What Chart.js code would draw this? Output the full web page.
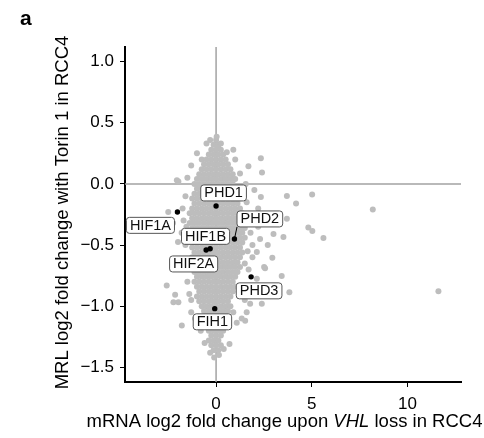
<!DOCTYPE html>
<html>
<head>
<meta charset="utf-8">
<script src="https://cdn.jsdelivr.net/npm/chart.js@4/dist/chart.umd.min.js"></script>
<style>
  html, body { margin: 0; padding: 0; background: #fff; }
  #wrap { width: 484px; height: 438px; }
</style>
</head>
<body>
<div id="wrap"><canvas id="scatterChart" width="484" height="438"></canvas></div>
<script>
// tick values
const xTicks = [0, 5, 10];
const yTicks = [-1.5, -1.0, -0.5, 0.0, 0.5, 1.0];

// labelled genes (black points)
const geneNames = ['PHD1', 'HIF1A', 'PHD2', 'HIF1B', 'HIF2A', 'PHD3', 'FIH1'];
const geneX = [0.0, -2.02, 0.96, -0.31, -0.52, 1.83, -0.07];
const geneY = [-0.18, -0.23, -0.45, -0.53, -0.54, -0.76, -1.02];

// dense grey cloud
const coreRows = [
    { y: 0.36, x: [0] },
    { y: 0.32, x: [-0.13, 0.12] },
    { y: 0.28, x: [-0.25, 0, 0.25] },
    { y: 0.24, x: [-0.38, -0.13, 0.12, 0.37] },
    { y: 0.20, x: [-0.75, -0.5, -0.25, 0, 0.25, 0.5] },
    { y: 0.16, x: [-0.63, -0.38, -0.13, 0.12, 0.37, 0.62] },
    { y: 0.12, x: [-0.75, -0.5, -0.25, 0, 0.25, 0.5, 0.75] },
    { y: 0.08, x: [-0.88, -0.63, -0.38, -0.13, 0.12, 0.37, 0.62, 0.87] },
    { y: 0.04, x: [-1.0, -0.75, -0.5, -0.25, 0, 0.25, 0.5, 0.75, 1.0] },
    { y: 0.00, x: [-1.13, -0.88, -0.63, -0.38, -0.13, 0.12, 0.37, 0.62, 0.87] },
    { y: -0.04, x: [-1.0, -0.75, -0.5, -0.25, 0, 0.25, 0.5, 0.75, 1.0] },
    { y: -0.08, x: [-1.13, -0.88, -0.63, -0.38, -0.13, 0.12, 0.37, 0.62, 0.87, 1.12] },
    { y: -0.12, x: [-1.25, -1.0, -0.75, -0.5, -0.25, 0, 0.25, 0.5, 0.75, 1.0, 1.25] },
    { y: -0.16, x: [-1.13, -0.88, -0.63, -0.38, -0.13, 0.12, 0.37, 0.62, 0.87, 1.12] },
    { y: -0.20, x: [-1.25, -1.0, -0.75, -0.5, -0.25, 0, 0.25, 0.5, 0.75, 1.0, 1.25] },
    { y: -0.24, x: [-1.38, -1.13, -0.88, -0.63, -0.38, -0.13, 0.12, 0.37, 0.62, 0.87, 1.12, 1.37] },
    { y: -0.28, x: [-1.25, -1.0, -0.75, -0.5, -0.25, 0, 0.25, 0.5, 0.75, 1.0, 1.25] },
    { y: -0.32, x: [-1.38, -1.13, -0.88, -0.63, -0.38, -0.13, 0.12, 0.37, 0.62, 0.87, 1.12, 1.37] },
    { y: -0.36, x: [-1.25, -1.0, -0.75, -0.5, -0.25, 0, 0.25, 0.5, 0.75, 1.0, 1.25, 1.5] },
    { y: -0.40, x: [-1.38, -1.13, -0.88, -0.63, -0.38, -0.13, 0.12, 0.37, 0.62, 0.87, 1.12, 1.37] },
    { y: -0.44, x: [-1.25, -1.0, -0.75, -0.5, -0.25, 0, 0.25, 0.5, 0.75, 1.0, 1.25, 1.5] },
    { y: -0.48, x: [-1.13, -0.88, -0.63, -0.38, -0.13, 0.12, 0.37, 0.62, 0.87, 1.12, 1.37] },
    { y: -0.52, x: [-1.25, -1.0, -0.75, -0.5, -0.25, 0, 0.25, 0.5, 0.75, 1.0, 1.25] },
    { y: -0.56, x: [-1.13, -0.88, -0.63, -0.38, -0.13, 0.12, 0.37, 0.62, 0.87, 1.12, 1.37] },
    { y: -0.60, x: [-1.25, -1.0, -0.75, -0.5, -0.25, 0, 0.25, 0.5, 0.75, 1.0, 1.25] },
    { y: -0.64, x: [-1.13, -0.88, -0.63, -0.38, -0.13, 0.12, 0.37, 0.62, 0.87, 1.12] },
    { y: -0.68, x: [-1.25, -1.0, -0.75, -0.5, -0.25, 0, 0.25, 0.5, 0.75, 1.0, 1.25] },
    { y: -0.72, x: [-1.13, -0.88, -0.63, -0.38, -0.13, 0.12, 0.37, 0.62, 0.87, 1.12] },
    { y: -0.76, x: [-1.0, -0.75, -0.5, -0.25, 0, 0.25, 0.5, 0.75, 1.0] },
    { y: -0.80, x: [-1.13, -0.88, -0.63, -0.38, -0.13, 0.12, 0.37, 0.62, 0.87] },
    { y: -0.84, x: [-1.0, -0.75, -0.5, -0.25, 0, 0.25, 0.5, 0.75, 1.0] },
    { y: -0.88, x: [-0.88, -0.63, -0.38, -0.13, 0.12, 0.37, 0.62, 0.87] },
    { y: -0.92, x: [-1.0, -0.75, -0.5, -0.25, 0, 0.25, 0.5, 0.75] },
    { y: -0.96, x: [-0.88, -0.63, -0.38, -0.13, 0.12, 0.37, 0.62] },
    { y: -1.00, x: [-0.75, -0.5, -0.25, 0, 0.25, 0.5, 0.75] },
    { y: -1.04, x: [-0.63, -0.38, -0.13, 0.12, 0.37, 0.62] },
    { y: -1.08, x: [-0.5, -0.25, 0, 0.25, 0.5] },
    { y: -1.12, x: [-0.38, -0.13, 0.12, 0.37, 0.62] },
    { y: -1.16, x: [-0.5, -0.25, 0, 0.25, 0.5] },
    { y: -1.20, x: [-0.38, -0.13, 0.12, 0.37] },
    { y: -1.24, x: [-0.25, 0, 0.25] },
    { y: -1.28, x: [-0.38, -0.13, 0.12] },
    { y: -1.32, x: [-0.25, 0, 0.25] },
    { y: -1.36, x: [-0.13, 0.12] }
];

// scattered grey points around the cloud
const outlierX = [
    -0.31, 0.03, -0.5, 0.25, 0.1,
    0.56, 1.69, 2.34, 2.40, 1.25, 2.0, 2.34, 3.70, 5.02, 4.18, 8.19, 1.6, 1.55, 1.0, 0.9,
    3.70, 4.82, 5.03, 5.61, 3.52, 3.0, 2.94, 2.51, 3.43, 3.83, 2.39, 11.62, 1.60, 1.52, 2.13,
    2.56, 2.13, 1.78, 2.0, 2.2, 1.8, 2.3, 1.9, 1.7, 2.0, 1.75, 1.65, 2.6, 1.9, 2.7, 1.6, 1.5,
    2.2, 1.5, 1.6,
    -2.05, -1.97, -2.5, -2.25, -1.99, -2.58, -2.14, -2.23, -1.97, -1.79, -1.6, -1.7, -1.6,
    -1.65, -1.5, -1.4, -1.3, -1.1, -1.5, -1.3, -1.75, -1.8, -1.55, -1.3, -1.0,
    -0.31, 0.7, 0.68, 1.08, 1.34, 0.9, -0.8, -0.6, 0.4, -0.1, 0.15
];
const outlierY = [
    0.36, 0.385, 0.33, 0.33, 0.30,
    0.26, 0.145, 0.21, 0.093, 0.085, -0.05, -0.107, -0.098, -0.087, -0.16, -0.21, -0.15, 0.0, 0.2, 0.28,
    -0.284, -0.357, -0.385, -0.443, -0.434, -0.41, -0.603, -0.68, -0.754, -0.885, -0.98, -0.877, -1.05, -1.12, -0.557,
    -0.69, -0.776, -0.98, -0.25, -0.35, -0.4, -0.45, -0.6, -0.7, -0.85, -0.32, -0.55, -0.3, -0.5, -0.5, -0.85, -0.95,
    -0.2, -0.65, -0.25,
    0.03, 0.02, -0.23, -0.32, -0.475, -0.83, -0.907, -0.967, -0.967, -1.158, -0.1, -0.3, -0.5,
    -0.65, -0.8, -0.9, -1.05, -1.1, 0.05, 0.15, -0.2, -0.4, -0.35, -0.95, 0.25,
    -1.38, -1.31, -1.16, -1.136, -1.10, -1.05, -1.2, -1.3, -1.35, -1.42, -1.4
];

// label box offsets from the point, pixels (style, not data)
const labelOffsets = {
    PHD1: [7.5, -13], HIF1A: [-27, 13.3], PHD2: [25.4, -20], HIF1B: [-4.6, -12.4],
    HIF2A: [-12.5, 14], PHD3: [8, 14], FIH1: [-2.3, 13.2]
};

const FONT = '"Liberation Sans", Arial, Helvetica, sans-serif';

const cloudPoints = [];
coreRows.forEach(r => r.x.forEach(x => cloudPoints.push({ x: x, y: r.y })));
outlierX.forEach((x, i) => cloudPoints.push({ x: x, y: outlierY[i] }));

const genePoints = geneNames.map((n, i) => ({ x: geneX[i], y: geneY[i], name: n }));

function fmtY(v) {
    return v.toFixed(1).replace('-', '\u2212');
}

// grey lines through zero
const zeroLines = {
    id: 'zeroLines',
    beforeDatasetsDraw(chart) {
        const { ctx, chartArea, scales } = chart;
        const x0 = scales.x.getPixelForValue(0);
        const y0 = scales.y.getPixelForValue(0);
        ctx.save();
        ctx.strokeStyle = '#a3a3a3';
        ctx.lineWidth = 1.5;
        ctx.beginPath();
        ctx.moveTo(x0, chartArea.top);
        ctx.lineTo(x0, chartArea.bottom);
        ctx.moveTo(chartArea.left, y0);
        ctx.lineTo(chartArea.right, y0);
        ctx.stroke();
        ctx.restore();
    }
};

function roundRect(ctx, x, y, w, h, r) {
    ctx.beginPath();
    ctx.moveTo(x + r, y);
    ctx.lineTo(x + w - r, y);
    ctx.quadraticCurveTo(x + w, y, x + w, y + r);
    ctx.lineTo(x + w, y + h - r);
    ctx.quadraticCurveTo(x + w, y + h, x + w - r, y + h);
    ctx.lineTo(x + r, y + h);
    ctx.quadraticCurveTo(x, y + h, x, y + h - r);
    ctx.lineTo(x, y + r);
    ctx.quadraticCurveTo(x, y, x + r, y);
    ctx.closePath();
}

// ggrepel style label boxes
const geneLabels = {
    id: 'geneLabels',
    afterDatasetsDraw(chart) {
        const { ctx, scales } = chart;
        ctx.save();
        ctx.font = '14.5px ' + FONT;
        ctx.textAlign = 'center';
        ctx.textBaseline = 'middle';
        genePoints.forEach(p => {
            const px = scales.x.getPixelForValue(p.x);
            const py = scales.y.getPixelForValue(p.y);
            const off = labelOffsets[p.name];
            const cx = px + off[0], cy = py + off[1];
            const w = ctx.measureText(p.name).width + 7;
            const h = 16;
            const left = cx - w / 2, top = cy - h / 2;
            const nx = Math.max(left, Math.min(px, left + w));
            const ny = Math.max(top, Math.min(py, top + h));
            if (Math.hypot(nx - px, ny - py) > 10) {
                ctx.strokeStyle = '#000';
                ctx.lineWidth = 1;
                ctx.beginPath();
                ctx.moveTo(px, py);
                ctx.lineTo(nx, ny);
                ctx.stroke();
            }
            roundRect(ctx, left, top, w, h, 3);
            ctx.fillStyle = '#fff';
            ctx.fill();
            ctx.strokeStyle = '#555';
            ctx.lineWidth = 1;
            ctx.stroke();
            ctx.fillStyle = '#111';
            ctx.fillText(p.name, cx, cy + 0.5);
        });
        ctx.restore();
    }
};

// axis titles and panel letter
const titles = {
    id: 'titles',
    afterDraw(chart) {
        const { ctx } = chart;
        ctx.save();
        ctx.fillStyle = '#000';
        ctx.font = 'bold 21px ' + FONT;
        ctx.textAlign = 'left';
        ctx.textBaseline = 'alphabetic';
        ctx.fillText('a', 20, 25);

        ctx.font = '18.5px ' + FONT;
        ctx.textBaseline = 'middle';
        ctx.textAlign = 'center';
        ctx.translate(63, 212.5);
        ctx.rotate(-Math.PI / 2);
        ctx.fillText('MRL log2 fold change with Torin 1 in RCC4', 0, 0);
        ctx.setTransform(1, 0, 0, 1, 0, 0);

        const parts = [
            ['mRNA log2 fold change upon ', '18.5px ' + FONT],
            ['VHL', 'italic 18.5px ' + FONT],
            [' loss in RCC4', '18.5px ' + FONT]
        ];
        let total = 0;
        parts.forEach(p => { ctx.font = p[1]; total += ctx.measureText(p[0]).width; });
        let x = 284.5 - total / 2;
        ctx.textAlign = 'left';
        parts.forEach(p => {
            ctx.font = p[1];
            ctx.fillText(p[0], x, 421.5);
            x += ctx.measureText(p[0]).width;
        });
        ctx.restore();
    }
};

const ctx = document.getElementById('scatterChart').getContext('2d');
new Chart(ctx, {
    type: 'scatter',
    data: {
        datasets: [
            {
                // first dataset is drawn last, so the black points sit on top
                data: genePoints,
                backgroundColor: '#000',
                borderWidth: 0,
                pointRadius: 2.7,
                pointHoverRadius: 2.7
            },
            {
                data: cloudPoints,
                backgroundColor: '#bdbdbd',
                borderWidth: 0,
                pointRadius: 3,
                pointHoverRadius: 3
            }
        ]
    },
    options: {
        responsive: false,
        animation: false,
        devicePixelRatio: 1,
        layout: { padding: { left: 0, top: 47, right: 23, bottom: 0 } },
        plugins: { legend: { display: false }, tooltip: { enabled: false } },
        scales: {
            x: {
                type: 'linear',
                min: -4.76,
                max: 12.8,
                afterBuildTicks: s => { s.ticks = xTicks.map(v => ({ value: v })); },
                afterFit: s => { s.height = 56; },
                grid: { drawOnChartArea: false, tickLength: 5, tickColor: '#000', tickWidth: 1 },
                border: { color: '#000', width: 2 },
                ticks: { color: '#000', font: { family: FONT, size: 17 }, padding: 7, maxRotation: 0 }
            },
            y: {
                type: 'linear',
                min: -1.62,
                max: 1.12,
                afterBuildTicks: s => { s.ticks = yTicks.map(v => ({ value: v })); },
                afterFit: s => { s.width = 125; },
                grid: { drawOnChartArea: false, tickLength: 5, tickColor: '#000', tickWidth: 1 },
                border: { color: '#000', width: 2 },
                ticks: { color: '#000', font: { family: FONT, size: 17 }, padding: 6, callback: v => fmtY(v) }
            }
        }
    },
    plugins: [zeroLines, geneLabels, titles]
});
</script>
</body>
</html>
